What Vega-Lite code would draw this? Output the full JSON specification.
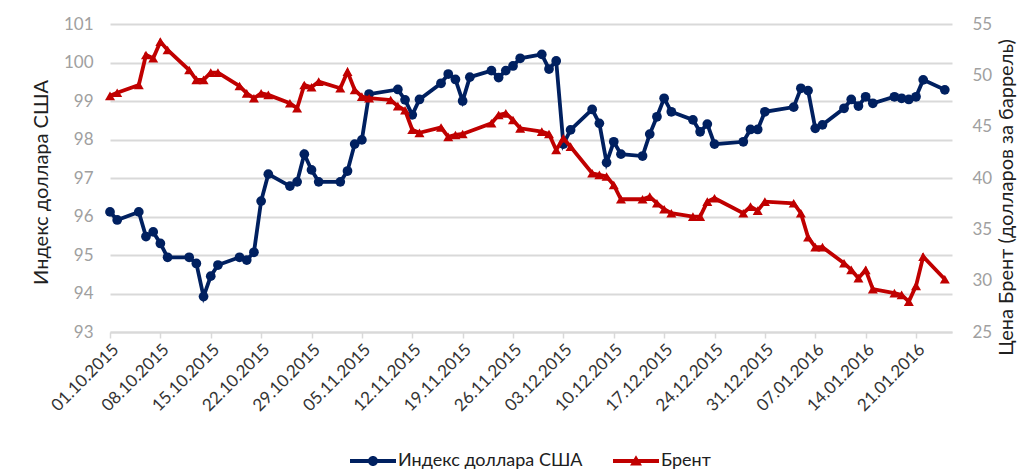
{
  "$schema": "https://vega.github.io/schema/vega-lite/v6.json",
  "width": 842,
  "height": 308,
  "autosize": {"type": "none"},
  "padding": {"left": 110, "top": 24, "right": 69, "bottom": 137},
  "background": "white",
  "config": {"view": {"stroke": null}, "font": "Lato, Roboto, sans-serif"},
  "datasets": {
    "usd": [
      {"d": "2015-10-01", "v": 96.12}, {"d": "2015-10-02", "v": 95.91}, {"d": "2015-10-05", "v": 96.12},
      {"d": "2015-10-06", "v": 95.48}, {"d": "2015-10-07", "v": 95.6}, {"d": "2015-10-08", "v": 95.3},
      {"d": "2015-10-09", "v": 94.94}, {"d": "2015-10-12", "v": 94.94}, {"d": "2015-10-13", "v": 94.78},
      {"d": "2015-10-14", "v": 93.92}, {"d": "2015-10-15", "v": 94.45}, {"d": "2015-10-16", "v": 94.74},
      {"d": "2015-10-19", "v": 94.94}, {"d": "2015-10-20", "v": 94.87}, {"d": "2015-10-21", "v": 95.07},
      {"d": "2015-10-22", "v": 96.4}, {"d": "2015-10-23", "v": 97.1}, {"d": "2015-10-26", "v": 96.79},
      {"d": "2015-10-27", "v": 96.9}, {"d": "2015-10-28", "v": 97.62}, {"d": "2015-10-29", "v": 97.21},
      {"d": "2015-10-30", "v": 96.9}, {"d": "2015-11-02", "v": 96.9}, {"d": "2015-11-03", "v": 97.18},
      {"d": "2015-11-04", "v": 97.88}, {"d": "2015-11-05", "v": 97.99}, {"d": "2015-11-06", "v": 99.18},
      {"d": "2015-11-10", "v": 99.3}, {"d": "2015-11-11", "v": 99.03}, {"d": "2015-11-12", "v": 98.64},
      {"d": "2015-11-13", "v": 99.04}, {"d": "2015-11-16", "v": 99.46}, {"d": "2015-11-17", "v": 99.7},
      {"d": "2015-11-18", "v": 99.56}, {"d": "2015-11-19", "v": 99.0}, {"d": "2015-11-20", "v": 99.62},
      {"d": "2015-11-23", "v": 99.79}, {"d": "2015-11-24", "v": 99.61}, {"d": "2015-11-25", "v": 99.79},
      {"d": "2015-11-26", "v": 99.91}, {"d": "2015-11-27", "v": 100.11}, {"d": "2015-11-30", "v": 100.21},
      {"d": "2015-12-01", "v": 99.83}, {"d": "2015-12-02", "v": 100.04}, {"d": "2015-12-03", "v": 97.88},
      {"d": "2015-12-04", "v": 98.25}, {"d": "2015-12-07", "v": 98.78}, {"d": "2015-12-08", "v": 98.42},
      {"d": "2015-12-09", "v": 97.4}, {"d": "2015-12-10", "v": 97.94}, {"d": "2015-12-11", "v": 97.62},
      {"d": "2015-12-14", "v": 97.57}, {"d": "2015-12-15", "v": 98.14}, {"d": "2015-12-16", "v": 98.59},
      {"d": "2015-12-17", "v": 99.07}, {"d": "2015-12-18", "v": 98.72}, {"d": "2015-12-21", "v": 98.51},
      {"d": "2015-12-22", "v": 98.2}, {"d": "2015-12-23", "v": 98.4}, {"d": "2015-12-24", "v": 97.88},
      {"d": "2015-12-28", "v": 97.94}, {"d": "2015-12-29", "v": 98.26}, {"d": "2015-12-30", "v": 98.26},
      {"d": "2015-12-31", "v": 98.72}, {"d": "2016-01-04", "v": 98.84}, {"d": "2016-01-05", "v": 99.33},
      {"d": "2016-01-06", "v": 99.27}, {"d": "2016-01-07", "v": 98.29}, {"d": "2016-01-08", "v": 98.38},
      {"d": "2016-01-11", "v": 98.81}, {"d": "2016-01-12", "v": 99.04}, {"d": "2016-01-13", "v": 98.87},
      {"d": "2016-01-14", "v": 99.11}, {"d": "2016-01-15", "v": 98.94}, {"d": "2016-01-18", "v": 99.11},
      {"d": "2016-01-19", "v": 99.07}, {"d": "2016-01-20", "v": 99.04}, {"d": "2016-01-21", "v": 99.11},
      {"d": "2016-01-22", "v": 99.55}, {"d": "2016-01-25", "v": 99.29}
    ],
    "brent": [
      {"d": "2015-10-01", "v": 48.0}, {"d": "2015-10-02", "v": 48.3}, {"d": "2015-10-05", "v": 49.06},
      {"d": "2015-10-06", "v": 51.98}, {"d": "2015-10-07", "v": 51.66}, {"d": "2015-10-08", "v": 53.28},
      {"d": "2015-10-09", "v": 52.47}, {"d": "2015-10-12", "v": 50.52}, {"d": "2015-10-13", "v": 49.55},
      {"d": "2015-10-14", "v": 49.55}, {"d": "2015-10-15", "v": 50.26}, {"d": "2015-10-16", "v": 50.26},
      {"d": "2015-10-19", "v": 48.96}, {"d": "2015-10-20", "v": 48.25}, {"d": "2015-10-21", "v": 47.77},
      {"d": "2015-10-22", "v": 48.25}, {"d": "2015-10-23", "v": 48.09}, {"d": "2015-10-26", "v": 47.28},
      {"d": "2015-10-27", "v": 46.79}, {"d": "2015-10-28", "v": 49.06}, {"d": "2015-10-29", "v": 48.84},
      {"d": "2015-10-30", "v": 49.38}, {"d": "2015-11-02", "v": 48.74}, {"d": "2015-11-03", "v": 50.36},
      {"d": "2015-11-04", "v": 48.57}, {"d": "2015-11-05", "v": 47.92}, {"d": "2015-11-06", "v": 47.77},
      {"d": "2015-11-09", "v": 47.6}, {"d": "2015-11-10", "v": 47.0}, {"d": "2015-11-11", "v": 46.6},
      {"d": "2015-11-12", "v": 44.7}, {"d": "2015-11-13", "v": 44.4}, {"d": "2015-11-16", "v": 44.92},
      {"d": "2015-11-17", "v": 44.0}, {"d": "2015-11-18", "v": 44.19}, {"d": "2015-11-19", "v": 44.29},
      {"d": "2015-11-23", "v": 45.33}, {"d": "2015-11-24", "v": 46.14}, {"d": "2015-11-25", "v": 46.3},
      {"d": "2015-11-26", "v": 45.65}, {"d": "2015-11-27", "v": 44.84}, {"d": "2015-11-30", "v": 44.51},
      {"d": "2015-12-01", "v": 44.29}, {"d": "2015-12-02", "v": 42.73}, {"d": "2015-12-03", "v": 43.87},
      {"d": "2015-12-04", "v": 43.05}, {"d": "2015-12-07", "v": 40.46}, {"d": "2015-12-08", "v": 40.3},
      {"d": "2015-12-09", "v": 40.15}, {"d": "2015-12-10", "v": 39.32}, {"d": "2015-12-11", "v": 37.93},
      {"d": "2015-12-14", "v": 37.93}, {"d": "2015-12-15", "v": 38.18}, {"d": "2015-12-16", "v": 37.54},
      {"d": "2015-12-17", "v": 36.96}, {"d": "2015-12-18", "v": 36.57}, {"d": "2015-12-21", "v": 36.24},
      {"d": "2015-12-22", "v": 36.24}, {"d": "2015-12-23", "v": 37.7}, {"d": "2015-12-24", "v": 38.03},
      {"d": "2015-12-28", "v": 36.57}, {"d": "2015-12-29", "v": 37.21}, {"d": "2015-12-30", "v": 36.82},
      {"d": "2015-12-31", "v": 37.7}, {"d": "2016-01-04", "v": 37.54}, {"d": "2016-01-05", "v": 36.57},
      {"d": "2016-01-06", "v": 34.23}, {"d": "2016-01-07", "v": 33.26}, {"d": "2016-01-08", "v": 33.26},
      {"d": "2016-01-11", "v": 31.7}, {"d": "2016-01-12", "v": 31.05}, {"d": "2016-01-13", "v": 30.24},
      {"d": "2016-01-14", "v": 31.05}, {"d": "2016-01-15", "v": 29.17}, {"d": "2016-01-18", "v": 28.78},
      {"d": "2016-01-19", "v": 28.61}, {"d": "2016-01-20", "v": 27.96}, {"d": "2016-01-21", "v": 29.49},
      {"d": "2016-01-22", "v": 32.34}, {"d": "2016-01-25", "v": 30.14}
    ],
    "legend": [{"s": "Индекс доллара США"}, {"s": "Брент"}]
  },
  "encoding": {
    "x": {
      "field": "d", "type": "temporal",
      "scale": {"type": "utc", "domain": [{"year": 2015, "month": 10, "date": 1, "utc": true}, {"year": 2016, "month": 1, "date": 26, "utc": true}]},
      "axis": {
        "title": null, "grid": false, "labelExpr": "utcFormat(datum.value, '%d.%m.%Y')",
        "values": [
          {"year": 2015, "month": 10, "date": 1, "utc": true}, {"year": 2015, "month": 10, "date": 8, "utc": true},
          {"year": 2015, "month": 10, "date": 15, "utc": true}, {"year": 2015, "month": 10, "date": 22, "utc": true},
          {"year": 2015, "month": 10, "date": 29, "utc": true}, {"year": 2015, "month": 11, "date": 5, "utc": true},
          {"year": 2015, "month": 11, "date": 12, "utc": true}, {"year": 2015, "month": 11, "date": 19, "utc": true},
          {"year": 2015, "month": 11, "date": 26, "utc": true}, {"year": 2015, "month": 12, "date": 3, "utc": true},
          {"year": 2015, "month": 12, "date": 10, "utc": true}, {"year": 2015, "month": 12, "date": 17, "utc": true},
          {"year": 2015, "month": 12, "date": 24, "utc": true}, {"year": 2015, "month": 12, "date": 31, "utc": true},
          {"year": 2016, "month": 1, "date": 7, "utc": true}, {"year": 2016, "month": 1, "date": 14, "utc": true},
          {"year": 2016, "month": 1, "date": 21, "utc": true}
        ],
        "labelAngle": -45, "labelFontSize": 17, "labelColor": "#333333", "labelPadding": 3,
        "labelOverlap": false, "labelFlush": false,
        "domainColor": "#d9d9d9", "domainWidth": 2, "tickColor": "#d9d9d9", "tickWidth": 1.5, "tickSize": 6
      }
    }
  },
  "layer": [
    {
      "data": {"name": "usd"},
      "mark": {"type": "line", "color": "#002060", "strokeWidth": 3.8, "point": {"filled": true, "size": 95, "color": "#002060", "opacity": 1}},
      "encoding": {
        "y": {
          "field": "v", "type": "quantitative",
          "scale": {"domain": [93, 101], "nice": false, "zero": false},
          "axis": {
            "orient": "left", "values": [93, 94, 95, 96, 97, 98, 99, 100, 101],
            "domain": false, "ticks": false, "tickSize": 0, "labelPadding": 17,
            "labelFontSize": 17, "labelColor": "#a0a0a0",
            "gridColor": "#d9d9d9", "gridWidth": 2,
            "title": "Индекс доллара США", "titleFontSize": 20, "titleFontWeight": "normal", "titleColor": "#202020",
            "titleAngle": -90, "titleX": -69, "titleY": 158, "titleAlign": "center", "titleBaseline": "middle"
          }
        }
      }
    },
    {
      "data": {"name": "brent"},
      "mark": {"type": "line", "color": "#C00000", "strokeWidth": 3.8, "point": {"filled": true, "shape": "triangle-up", "size": 100, "color": "#C00000", "opacity": 1}},
      "encoding": {
        "y": {
          "field": "v", "type": "quantitative",
          "scale": {"domain": [25, 55], "nice": false, "zero": false},
          "axis": {
            "orient": "right", "values": [25, 30, 35, 40, 45, 50, 55], "grid": false,
            "domain": false, "ticks": false, "tickSize": 0, "labelPadding": 20,
            "labelFontSize": 17, "labelColor": "#a0a0a0",
            "title": "Цена Брент (долларов за баррель)", "titleFontSize": 20, "titleFontWeight": "normal", "titleColor": "#202020",
            "titleAngle": -90, "titleX": 54, "titleY": 173, "titleAlign": "center", "titleBaseline": "middle"
          }
        }
      }
    },
    {
      "data": {"name": "legend"},
      "mark": {"type": "point", "filled": true, "opacity": 0},
      "encoding": {
        "color": {
          "field": "s", "type": "nominal",
          "scale": {"domain": ["Индекс доллара США", "Брент"], "range": ["#002060", "#C00000"]},
          "legend": {
            "orient": "none", "legendX": 240, "legendY": 414, "direction": "horizontal", "title": null,
            "labelFontSize": 18, "labelColor": "#202020", "labelOffset": 2, "columnPadding": 30, "labelLimit": 0,
            "symbolSize": 2116, "symbolStrokeWidth": 0, "symbolOpacity": 1, "padding": 0
          }
        },
        "shape": {
          "field": "s", "type": "nominal",
          "scale": {
            "domain": ["Индекс доллара США", "Брент"],
            "range": [
              "M-1,-0.087L1,-0.087L1,0.087L-1,0.087Z M0.217,0A0.217,0.217 0 1,1 -0.217,0A0.217,0.217 0 1,1 0.217,0Z",
              "M-1,-0.087L1,-0.087L1,0.087L-1,0.087Z M0,-0.25L0.26,0.2L-0.26,0.2Z"
            ]
          },
          "legend": {
            "orient": "none", "legendX": 240, "legendY": 414, "direction": "horizontal", "title": null,
            "labelFontSize": 18, "labelColor": "#202020", "labelOffset": 2, "columnPadding": 30, "labelLimit": 0,
            "symbolSize": 2116, "symbolStrokeWidth": 0, "symbolOpacity": 1, "padding": 0
          }
        }
      }
    }
  ],
  "resolve": {"scale": {"y": "independent"}}
}
